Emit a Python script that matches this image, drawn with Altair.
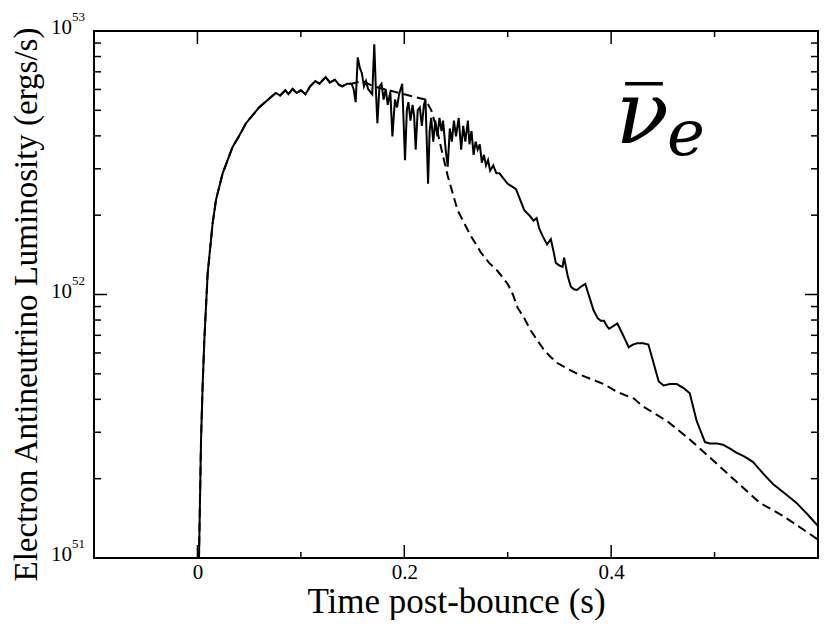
import altair as alt
import pandas as pd
import numpy as np

# Solid curve: time post-bounce (s) and log10 luminosity (erg/s)
t_solid = [0.000, 0.0015, 0.0035, 0.0050, 0.0067, 0.0099, 0.0147, 0.018, 0.0244, 0.034,
           0.040, 0.047, 0.0596, 0.0757, 0.080, 0.085, 0.088, 0.092, 0.096, 0.100,
           0.1045, 0.109, 0.114, 0.118, 0.124, 0.128, 0.133, 0.137, 0.140, 0.145,
           0.149, 0.151, 0.153, 0.155, 0.157, 0.159, 0.161, 0.163, 0.165, 0.167,
           0.169, 0.171, 0.1725, 0.174, 0.176, 0.178, 0.180, 0.182, 0.184, 0.1865,
           0.1885, 0.191, 0.193, 0.195, 0.198, 0.2007, 0.2025, 0.204, 0.206, 0.208,
           0.2095, 0.211, 0.213, 0.215, 0.217, 0.219, 0.2205, 0.223, 0.2245, 0.226,
           0.228, 0.230, 0.232, 0.234, 0.236, 0.2375, 0.240, 0.242, 0.244, 0.246,
           0.248, 0.250, 0.2526, 0.255, 0.257, 0.259, 0.2615, 0.263, 0.265, 0.267,
           0.269, 0.271, 0.273, 0.275, 0.277, 0.279, 0.281, 0.283, 0.286, 0.289,
           0.292, 0.296, 0.300, 0.304, 0.308, 0.312, 0.316, 0.321, 0.325, 0.328,
           0.3305, 0.334, 0.338, 0.3417, 0.3445, 0.3465, 0.350, 0.353, 0.3545, 0.358,
           0.361, 0.364, 0.367, 0.371, 0.375, 0.379, 0.383, 0.387, 0.390, 0.393,
           0.396, 0.398, 0.402, 0.406, 0.411, 0.417, 0.421, 0.425, 0.431, 0.436,
           0.441, 0.446, 0.4507, 0.457, 0.4635, 0.470, 0.476, 0.4827, 0.4907, 0.4955,
           0.502, 0.508, 0.515, 0.521, 0.529, 0.537, 0.547, 0.5567, 0.568, 0.579,
           0.590, 0.598, 0.605]
logL_solid = [51.00, 51.00, 51.45, 51.65, 51.83, 52.08, 52.27, 52.36, 52.46, 52.56,
              52.60, 52.65, 52.71, 52.765, 52.755, 52.775, 52.76, 52.78, 52.765, 52.775,
              52.76, 52.79, 52.81, 52.80, 52.825, 52.805, 52.815, 52.795, 52.79, 52.80,
              52.80, 52.78, 52.73, 52.90, 52.86, 52.84, 52.79, 52.81, 52.78, 52.77,
              52.76, 52.95, 52.78, 52.65, 52.79, 52.80, 52.74, 52.78, 52.72, 52.77,
              52.60, 52.74, 52.71, 52.76, 52.80, 52.51, 52.70, 52.73, 52.66, 52.72,
              52.68, 52.55, 52.70, 52.71, 52.64, 52.72, 52.74, 52.42, 52.62, 52.67,
              52.58, 52.66, 52.60, 52.67, 52.62, 52.66, 52.55, 52.485, 52.63, 52.58,
              52.66, 52.60, 52.67, 52.55, 52.64, 52.58, 52.66, 52.57, 52.62, 52.53,
              52.58, 52.55, 52.57, 52.50, 52.53, 52.49, 52.51, 52.47, 52.49, 52.46,
              52.46, 52.44, 52.42, 52.41, 52.40, 52.36, 52.32, 52.30, 52.28, 52.29,
              52.25, 52.22, 52.19, 52.21, 52.16, 52.12, 52.11, 52.105, 52.14, 52.07,
              52.03, 52.02, 52.017, 52.03, 52.04, 51.99, 51.94, 51.91, 51.90, 51.90,
              51.88, 51.87, 51.88, 51.89, 51.85, 51.80, 51.81, 51.815, 51.815, 51.81,
              51.74, 51.67, 51.655, 51.66, 51.66, 51.645, 51.625, 51.52, 51.44, 51.435,
              51.435, 51.43, 51.415, 51.40, 51.385, 51.365, 51.32, 51.28, 51.245, 51.21,
              51.165, 51.13, 51.10]

# Dashed curve: identical to the solid one up to t = 0.149 s, then diverges
t_dash_tail = [0.160, 0.170, 0.180, 0.190, 0.200, 0.210, 0.2205, 0.226, 0.232, 0.236,
               0.242, 0.2515, 0.258, 0.2647, 0.274, 0.282, 0.290, 0.300, 0.305, 0.3096,
               0.316, 0.322, 0.328, 0.335, 0.341, 0.348, 0.357, 0.367, 0.380, 0.393,
               0.406, 0.422, 0.431, 0.454, 0.476, 0.4987, 0.521, 0.5436, 0.566, 0.585,
               0.600, 0.605]
logL_dash_tail = [52.81, 52.79, 52.78, 52.77, 52.76, 52.75, 52.74, 52.70, 52.62, 52.55,
                  52.45, 52.32, 52.27, 52.22, 52.16, 52.12, 52.09, 52.04, 52.00, 51.95,
                  51.91, 51.865, 51.83, 51.79, 51.765, 51.74, 51.72, 51.70, 51.68, 51.66,
                  51.63, 51.605, 51.575, 51.52, 51.45, 51.37, 51.29, 51.21, 51.16, 51.11,
                  51.07, 51.055]

x_major = [0.0, 0.2, 0.4]
x_minor = [0.1, 0.3, 0.5]
y_major = [1e52]
y_minor = [k * 10.0 ** n for n in (51, 52) for k in range(2, 10)]
y_label_vals = [1e51, 1e52, 1e53]
y_label_mant = ["10", "10", "10"]
y_label_exp = ["51", "52", "53"]

W, H = 724, 527
MAJ, MIN = 13, 7
SERIF = "Liberation Serif"

n_shared = sum(1 for t in t_solid if t <= 0.149)
df_s = pd.DataFrame({"t": t_solid, "L": 10.0 ** np.array(logL_solid)})
df_d = pd.DataFrame({"t": t_solid[:n_shared] + t_dash_tail,
                     "L": 10.0 ** np.array(logL_solid[:n_shared] + logL_dash_tail)})

xs = alt.Scale(domain=[-0.1, 0.6], nice=False, zero=False)
ys = alt.Scale(type="log", domain=[1e51, 1e53], nice=False)

x_axis = alt.Axis(values=x_major, format=".1~f", labelFont=SERIF, labelFontSize=21,
                  labelColor="black", labelPadding=3, ticks=False, tickSize=0,
                  domain=False, grid=False, title="Time post-bounce (s)",
                  titleFont=SERIF, titleFontSize=35, titleFontWeight="normal",
                  titleColor="black", titleY=54, titleBaseline="alphabetic")
y_axis = alt.Axis(labels=False, ticks=False, tickSize=0, domain=False, grid=False,
                  title="Electron Antineutrino Luminosity (ergs/s)", titleFont=SERIF,
                  titleFontSize=33, titleFontWeight="normal", titleColor="black",
                  titleX=-58, titleY=273, titleBaseline="alphabetic", titleAngle=-90)

solid = alt.Chart(df_s).mark_line(color="black", strokeWidth=2, clip=True).encode(
    x=alt.X("t:Q", scale=xs, axis=x_axis),
    y=alt.Y("L:Q", scale=ys, axis=y_axis))
dashed = alt.Chart(df_d).mark_line(color="black", strokeWidth=2, strokeDash=[9, 5],
                                   clip=True).encode(
    x=alt.X("t:Q", scale=xs), y=alt.Y("L:Q", scale=ys))

dfx_maj = pd.DataFrame({"t": x_major})
dfx_min = pd.DataFrame({"t": x_minor})
dfy_maj = pd.DataFrame({"L": y_major})
dfy_min = pd.DataFrame({"L": y_minor})

def xticks(df, size):
    bot = alt.Chart(df).mark_rule(color="black", strokeWidth=1.5).encode(
        x=alt.X("t:Q", scale=xs), y=alt.value(H), y2=alt.value(H - size))
    top = alt.Chart(df).mark_rule(color="black", strokeWidth=1.5).encode(
        x=alt.X("t:Q", scale=xs), y=alt.value(0), y2=alt.value(size))
    return [bot, top]

def yticks(df, size):
    left = alt.Chart(df).mark_rule(color="black", strokeWidth=1.5).encode(
        y=alt.Y("L:Q", scale=ys), x=alt.value(0), x2=alt.value(size))
    right = alt.Chart(df).mark_rule(color="black", strokeWidth=1.5).encode(
        y=alt.Y("L:Q", scale=ys), x=alt.value(W), x2=alt.value(W - size))
    return [left, right]

df_ylab = pd.DataFrame({"L": y_label_vals, "m": y_label_mant, "e": y_label_exp})
ylab_m = alt.Chart(df_ylab).mark_text(font=SERIF, fontSize=21, align="right",
                                      baseline="middle", dy=-3, color="black").encode(
    y=alt.Y("L:Q", scale=ys), x=alt.value(-22), text="m:N")
ylab_e = alt.Chart(df_ylab).mark_text(font=SERIF, fontSize=13, align="left",
                                      baseline="middle", dy=-14, color="black").encode(
    y=alt.Y("L:Q", scale=ys), x=alt.value(-22), text="e:N")

# annotation: anti electron neutrino symbol
ann_nu = pd.DataFrame({"t": [0.43], "L": [10 ** 52.575], "s": ["ν"]})
ann_e = pd.DataFrame({"t": [0.454], "L": [10 ** 52.529], "s": ["e"]})
ann_bar = pd.DataFrame({"t": [0.4135], "t2": [0.450], "L": [10 ** 52.80]})
nu = alt.Chart(ann_nu).mark_text(font="DejaVu Serif", fontStyle="italic", fontSize=88,
                                 align="center", baseline="alphabetic", color="black").encode(
    x=alt.X("t:Q", scale=xs), y=alt.Y("L:Q", scale=ys), text="s:N")
sub_e = alt.Chart(ann_e).mark_text(font="DejaVu Serif", fontStyle="italic", fontSize=64,
                                   align="left", baseline="alphabetic", color="black").encode(
    x=alt.X("t:Q", scale=xs), y=alt.Y("L:Q", scale=ys), text="s:N")
bar = alt.Chart(ann_bar).mark_rule(color="black", strokeWidth=3.5).encode(
    x=alt.X("t:Q", scale=xs), x2="t2:Q", y=alt.Y("L:Q", scale=ys))

layers = [solid, dashed] + xticks(dfx_maj, MAJ) + xticks(dfx_min, 6) + \
    yticks(dfy_maj, MAJ) + yticks(dfy_min, MIN) + [ylab_m, ylab_e, nu, sub_e, bar]

chart = alt.layer(*layers).properties(
    width=W, height=H,
    autosize=alt.AutoSizeParams(type="none"),
    padding={"left": 86, "top": 23, "right": 1, "bottom": 62},
    background="white",
).configure_view(stroke="black", strokeWidth=2)

chart.save("out.html", embed_options={"renderer": "svg", "actions": False})
